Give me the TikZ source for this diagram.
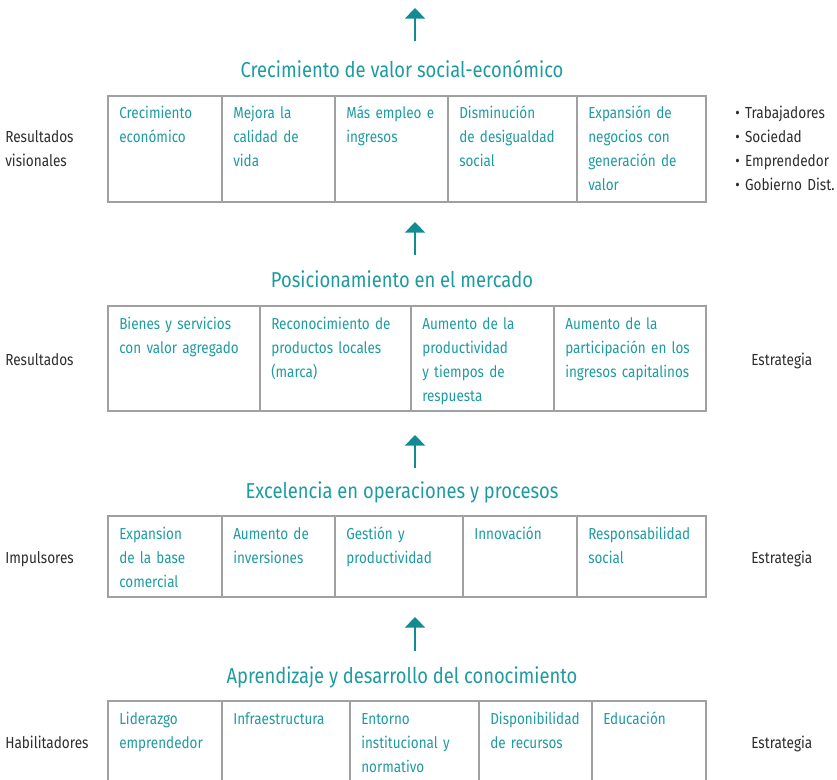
\documentclass[tikz,border=0pt]{standalone}
\usepackage{fontspec}
\setmainfont{Fira Sans}[FakeStretch=0.85]
\usetikzlibrary{arrows.meta}
\definecolor{tealtxt}{RGB}{30,155,160}
\definecolor{tealarr}{RGB}{18,140,146}
\definecolor{boxgray}{RGB}{160,160,160}
\definecolor{lbltxt}{RGB}{45,45,45}
\tikzset{
  celltxt/.style={anchor=base west,inner sep=0pt,align=left,text=tealtxt,
    font=\fontsize{11.9}{18}\selectfont},
  titletxt/.style={anchor=base,inner sep=0pt,text=tealtxt,font=\fontsize{16.2}{18}\selectfont},
  sidetxt/.style={anchor=base west,inner sep=0pt,align=left,text=lbltxt,text width=100pt,
    font=\fontsize{12}{18}\selectfont},
  rowline/.style={draw=boxgray,line width=1pt},
  uparrow/.style={draw=tealarr,line width=1.5pt,-{Triangle[width=15pt,length=8pt]}}
}
\begin{document}
\begin{tikzpicture}[x=0.75pt,y=0.75pt,yscale=-1,xscale=1]
\path[use as bounding box] (0,0) rectangle (837,780);

% Arrows
\coordinate (a1b) at (415,41);  \coordinate (a1t) at (415,8);
\coordinate (a2b) at (415,255); \coordinate (a2t) at (415,222);
\coordinate (a3b) at (415,468); \coordinate (a3t) at (415,435);
\coordinate (a4b) at (415,651); \coordinate (a4t) at (415,617);
\draw[uparrow] (a1b) -- (a1t);
\draw[uparrow] (a2b) -- (a2t);
\draw[uparrow] (a3b) -- (a3t);
\draw[uparrow] (a4b) -- (a4t);

% Titles
\node[titletxt] (t1) at (402,78) {Crecimiento de valor social-económico};
\node[titletxt] (t2) at (402,287) {Posicionamiento en el mercado};
\node[titletxt] (t3) at (402,498) {Excelencia en operaciones y procesos};
\node[titletxt] (t4) at (402,683) {Aprendizaje y desarrollo del conocimiento};

% Row 1
\draw[rowline] (108,96) rectangle (706,202);
\foreach \xd in {222,335,448,577} \draw[rowline] (\xd,96) -- (\xd,202);
\node[celltxt,text width=95pt] (c11) at (119,119) {Crecimiento\\económico};
\node[celltxt,text width=75pt] (c12) at (233,119) {Mejora la\\calidad de\\vida};
\node[celltxt,text width=75pt] (c13) at (346,119) {Más empleo e\\ingresos};
\node[celltxt,text width=90pt] (c14) at (459,119) {Disminución\\de desigualdad\\social};
\node[celltxt,text width=90pt] (c15) at (588,119) {Expansión de\\negocios con\\generación de\\valor};
\node[sidetxt] (l1) at (5,143) {Resultados\\visionales};
\node[sidetxt,text width=80pt] (r1) at (735,119) {• Trabajadores\\• Sociedad\\• Emprendedor\\• Gobierno Dist.};

% Row 2
\draw[rowline] (108,306) rectangle (706,411);
\foreach \xd in {260,411,554} \draw[rowline] (\xd,306) -- (\xd,411);
\node[celltxt,text width=105pt] (c21) at (119,329) {Bienes y servicios\\con valor agregado};
\node[celltxt,text width=105pt] (c22) at (271,329) {Reconocimiento de\\productos locales\\(marca)};
\node[celltxt,text width=100pt] (c23) at (422,329) {Aumento de la\\productividad\\y tiempos de\\respuesta};
\node[celltxt,text width=105pt] (c24) at (565,329) {Aumento de la\\participación en los\\ingresos capitalinos};
\node[sidetxt] (l2) at (5,365) {Resultados};
\node[sidetxt,text width=70pt] (r2) at (751,365) {Estrategia};

% Row 3
\draw[rowline] (108,516) rectangle (706,597);
\foreach \xd in {222,335,463,577} \draw[rowline] (\xd,516) -- (\xd,597);
\node[celltxt,text width=80pt] (c31) at (119,539) {Expansion\\de la base\\comercial};
\node[celltxt,text width=80pt] (c32) at (233,539) {Aumento de\\inversiones};
\node[celltxt,text width=90pt] (c33) at (346,539) {Gestión y\\productividad};
\node[celltxt,text width=80pt] (c34) at (474,539) {Innovación};
\node[celltxt,text width=90pt] (c35) at (588,539) {Responsabilidad\\social};
\node[sidetxt] (l3) at (5,563) {Impulsores};
\node[sidetxt,text width=70pt] (r3) at (751,563) {Estrategia};

% Row 4
\draw[rowline] (108,782) |- (706,701) -- (706,782);
\foreach \xd in {222,350,479,592} \draw[rowline] (\xd,701) -- (\xd,782);
\node[celltxt,text width=80pt] (c41) at (119,724) {Liderazgo\\emprendedor};
\node[celltxt,text width=90pt] (c42) at (233,724) {Infraestructura};
\node[celltxt,text width=90pt] (c43) at (361,724) {Entorno\\institucional y\\normativo};
\node[celltxt,text width=90pt] (c44) at (490,724) {Disponibilidad\\de recursos};
\node[celltxt,text width=80pt] (c45) at (603,724) {Educación};
\node[sidetxt] (l4) at (5,748) {Habilitadores};
\node[sidetxt,text width=70pt] (r4) at (751,748) {Estrategia};

\end{tikzpicture}
\end{document}
